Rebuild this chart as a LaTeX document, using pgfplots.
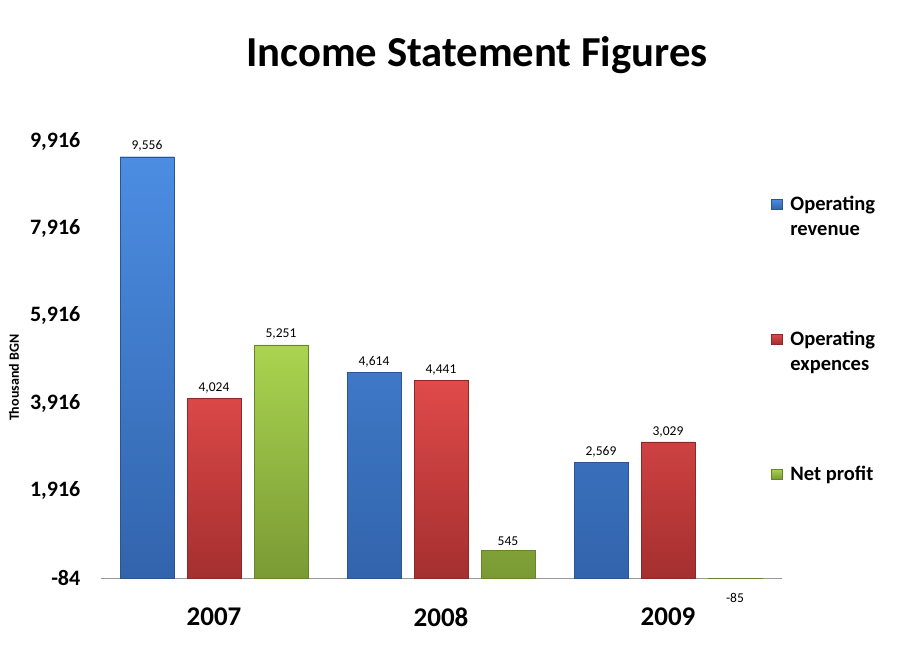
\documentclass[border=0pt]{standalone}
\usepackage{pgfplots}
\pgfplotsset{compat=1.18}
\usepackage{pgfplotstable}
\usepackage{fontspec}
\setmainfont{Carlito}
\definecolor{bluetop}{HTML}{4C8DE2}
\definecolor{bluebot}{HTML}{3264AC}
\definecolor{redtop}{HTML}{E04A4A}
\definecolor{redbot}{HTML}{A52F2F}
\definecolor{greentop}{HTML}{AAD450}
\definecolor{greenbot}{HTML}{7A9A34}
\pgfplotstableread{
x rev exp net
0 9556 4024 5251
1 4614 4441 545
2 2569 3029 -85
}\datatable
\begin{document}
\begin{tikzpicture}
\useasboundingbox (0pt,0pt) rectangle (913pt,-663pt);
\node[font=\fontsize{42.7}{46}\selectfont\bfseries, anchor=base] at (477pt,-67pt) {Income Statement Figures};
\begin{axis}[
  at={(100.5pt,-578pt)}, anchor=south west,
  scale only axis, width=681pt, height=437pt,
  clip=false,
  /pgf/number format/assume math mode=true,
  scaled y ticks=false,
  ybar=13pt, bar width=54pt,
  xmin=-0.5, xmax=2.5, ymin=0, ymax=10000,
  xtick={0,1,2}, xticklabels={2007,2008,2009},
  ytick={0,2000,4000,6000,8000,10000},
  yticklabels={-84,{1,916},{3,916},{5,916},{7,916},{9,916}},
  axis lines*=left,
  axis line style={-},
  y axis line style={draw=none},
  x axis line style={draw=black!40, line width=0.8pt},
  major tick length=0pt,
  xticklabel style={font=\bfseries\fontsize{27}{30}\selectfont, inner sep=0pt},
  yticklabel style={font=\bfseries\fontsize{22}{26}\selectfont, inner sep=0pt},
  xticklabel shift=30pt,
  yticklabel shift=20pt,
  ylabel={Thousand BGN},
  every axis y label/.style={at={(axis description cs:-0.127,0.458)}, rotate=90, anchor=center, font=\bfseries\fontsize{14}{16}\selectfont},
  point meta=explicit,
  nodes near coords={\pgfmathprintnumber[1000 sep={,}]{\pgfplotspointmeta}},
  every node near coord/.append style={font=\fontsize{13.5}{15}\selectfont, inner sep=5pt, black},
  legend style={draw=none, fill=none, at={(axis description cs:0.9846,0.8867)}, anchor=north west, inner sep=0pt, outer sep=0pt, row sep=112pt, column sep=6pt, font=\bfseries\fontsize{20.5}{25}\selectfont, cells={anchor=base west, inner sep=0pt}},
  legend image code/.code={\fill[#1] (0pt,1pt) rectangle (11pt,11pt);},
]
\addplot[draw=bluebot!85!black, line width=0.4pt, top color=bluetop, bottom color=bluebot] table[x=x, y expr=\thisrow{rev}+84, meta=rev] {\datatable};
\addlegendentry{\begin{tabular}[t]{@{}l@{}}Operating\\revenue\end{tabular}}
\addplot[draw=redbot!85!black, line width=0.4pt, top color=redtop, bottom color=redbot] table[x=x, y expr=\thisrow{exp}+84, meta=exp] {\datatable};
\addlegendentry{\begin{tabular}[t]{@{}l@{}}Operating\\expences\end{tabular}}
\addplot[draw=greenbot!85!black, line width=0.4pt, top color=greentop, bottom color=greenbot,
  visualization depends on={y \as \yv},
  every node near coord/.append style={yshift={(\yv<0)*(-10pt)}}] table[x=x, y expr=\thisrow{net}+84, meta=net] {\datatable};
\addlegendentry{\begin{tabular}[t]{@{}l@{}}Net profit\end{tabular}}
\end{axis}
\end{tikzpicture}
\end{document}
